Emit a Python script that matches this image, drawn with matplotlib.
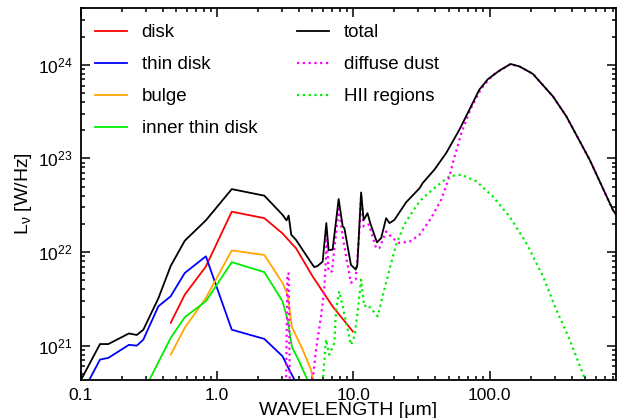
import numpy as np
import matplotlib
matplotlib.use("Agg")
import matplotlib.pyplot as plt
from matplotlib.ticker import FixedLocator, FixedFormatter, LogLocator, NullFormatter

plt.rcParams['font.family'] = ['Liberation Sans', 'DejaVu Sans']
plt.rcParams['mathtext.fontset'] = 'custom'
plt.rcParams['mathtext.rm'] = 'Liberation Sans'
plt.rcParams['mathtext.it'] = 'Liberation Sans:italic'

# ---- data (wavelength in micron, luminosity in W/Hz) ----
total_wl = [0.1, 0.138, 0.159, 0.225, 0.257, 0.287, 0.37, 0.456, 0.578, 0.826, 1.28,
            2.22, 3.02, 3.23, 3.35, 3.5, 3.79, 5.02, 5.17, 5.46, 5.95, 6.33, 6.58, 7.04,
            7.8, 8.35, 8.59, 9.6, 10.4, 10.7, 11.4, 11.9, 12.7, 13.3, 14.9, 16.0, 17.4,
            18.4, 20.0, 24.4, 30.6, 32.3, 39.4, 48, 60, 71, 84, 97, 118.5, 142.6, 166,
            208, 292, 367, 543, 806, 850]
total_L = [4.3e20, 1.04e21, 1.04e21, 1.35e21, 1.3e21, 1.48e21, 3.2e21, 7.1e21, 1.32e22,
           2.18e22, 4.7e22, 4.0e22, 2.5e22, 2.18e22, 2.45e22, 1.53e22, 1.35e22, 7.3e21,
           6.9e21, 7.1e21, 7.9e21, 2.04e22, 1.05e22, 1.06e22, 3.68e22, 1.88e22, 1.8e22,
           7.3e21, 6.5e21, 7.3e21, 4.33e22, 2.2e22, 2.6e22, 2.04e22, 1.27e22, 1.41e22,
           2.3e22, 2.04e22, 2.2e22, 3.4e22, 4.8e22, 5.46e22, 7.6e22, 1.14e23, 2.02e23,
           3.3e23, 5.41e23, 7.0e23, 8.7e23, 1.02e24, 9.6e23, 8.0e23, 4.6e23, 2.8e23,
           9.7e22, 2.8e22, 2.5e22]

disk_wl = [0.456, 0.578, 0.826, 1.28, 2.22, 3.02, 3.58, 3.79, 5.02, 7.04, 9.9]
disk_L = [1.75e21, 3.5e21, 7.0e21, 2.7e22, 2.3e22, 1.58e22, 1.2e22, 1.1e22, 5.5e21,
          2.63e21, 1.42e21]

thin_wl = [0.112, 0.138, 0.159, 0.225, 0.257, 0.287, 0.37, 0.456, 0.578, 0.826, 1.28,
           2.22, 3.02, 3.48, 3.8]
thin_L = [4.0e20, 7.1e20, 7.4e20, 1.02e21, 1.0e21, 1.16e21, 2.63e21, 3.37e21, 5.97e21,
          9.0e21, 1.48e21, 1.18e21, 7.7e20, 5.1e20, 4.0e20]

bulge_wl = [0.456, 0.578, 0.826, 1.28, 2.22, 3.02, 3.29, 3.54, 4.24, 4.89, 5.1]
bulge_L = [8.0e20, 1.55e21, 3.23e21, 1.04e22, 9.3e21, 4.68e21, 3.5e21, 1.58e21, 9.1e20,
           5.5e20, 4.0e20]

inner_wl = [0.31, 0.456, 0.578, 0.826, 1.28, 2.22, 3.02, 3.29, 3.54, 4.0, 4.7]
inner_L = [4.0e20, 1.21e21, 2.01e21, 2.98e21, 7.8e21, 6.1e21, 2.98e21, 1.9e21, 9.7e20,
           6.8e20, 4.0e20]

dust_wl = [3.2, 3.28, 3.35, 3.42, 5.0, 5.32, 5.79, 6.12, 6.3, 6.37, 6.58, 6.97, 7.17,
           7.8, 8.35, 8.84, 9.6, 10.4, 11.0, 11.4, 11.9, 13.0, 14.7, 15.5, 17.4, 19.4,
           21.7, 25.8, 30.6, 37.2, 44.1, 50.8, 53.7, 62, 73, 87, 106, 142.6, 166, 208,
           292, 367, 543, 806, 850]
dust_L = [3.0e20, 5.9e21, 5.9e21, 3.0e20, 4.0e20, 9.1e20, 2.06e21, 3.98e21, 9.0e21,
          1.53e22, 6.2e21, 6.2e21, 9.3e21, 2.88e22, 1.47e22, 9.0e21, 4.7e21, 5.1e21,
          1.47e22, 4.1e22, 1.88e22, 1.97e22, 1.1e22, 1.1e22, 1.66e22, 1.41e22, 1.25e22,
          1.29e22, 1.53e22, 2.3e22, 3.6e22, 6.46e22, 8.9e22, 1.86e23, 3.45e23, 5.6e23,
          7.8e23, 1.02e24, 9.6e23, 8.0e23, 4.6e23, 2.8e23, 9.7e22, 2.8e22, 2.5e22]

hii_wl = [5.95, 6.3, 6.66, 7.25, 7.46, 7.88, 8.35, 9.08, 9.6, 10.2, 10.8, 11.4, 12.0,
          12.7, 15.1, 16.4, 18.4, 20.6, 23.7, 25.8, 30.6, 32.4, 40.6, 50.8, 62, 80, 106,
          140, 186, 247, 309, 387, 500]
hii_L = [4.0e20, 1.16e21, 8.0e20, 1.07e21, 2.42e21, 3.8e21, 2.63e21, 1.48e21, 1.02e21,
         1.26e21, 2.42e21, 5.07e21, 2.63e21, 2.74e21, 2.06e21, 3.37e21, 6.46e21, 1.2e22,
         1.97e22, 2.4e22, 3.47e22, 3.78e22, 5.0e22, 6.46e22, 6.7e22, 5.7e22, 3.9e22,
         2.4e22, 1.25e22, 5.5e21, 2.42e21, 1.16e21, 4.45e20]

xtick_vals = [0.1, 1.0, 10.0, 100.0]
xtick_labels = ['0.1', '1.0', '10.0', '100.0']

# ---- figure ----
fig = plt.figure(figsize=(6.18, 4.18), dpi=100)
ax = fig.add_axes([0.131, 0.091, 0.866, 0.890])

lw = 1.3
dot = (0, (1, 1.6))
h_disk, = ax.plot(disk_wl, disk_L, color='#ff0000', lw=lw, label='disk')
h_thin, = ax.plot(thin_wl, thin_L, color='#0000ff', lw=lw, label='thin disk')
h_bulge, = ax.plot(bulge_wl, bulge_L, color='#ffa500', lw=lw, label='bulge')
h_inner, = ax.plot(inner_wl, inner_L, color='#00ee00', lw=lw, label='inner thin disk')
h_hii, = ax.plot(hii_wl, hii_L, color='#00ee00', lw=1.6, ls=dot, label='HII regions')
h_dust, = ax.plot(dust_wl, dust_L, color='#ff00ff', lw=1.6, ls=dot, label='diffuse dust')
h_tot, = ax.plot(total_wl, total_L, color='black', lw=lw, label='total')

ax.set_xscale('log')
ax.set_yscale('log')
ax.set_xlim(0.1, 850)
ax.set_ylim(4.3e20, 4.05e24)

ax.xaxis.set_major_locator(FixedLocator(xtick_vals))
ax.xaxis.set_major_formatter(FixedFormatter(xtick_labels))
ax.xaxis.set_minor_locator(LogLocator(base=10, subs=np.arange(2, 10)))
ax.xaxis.set_minor_formatter(NullFormatter())
ax.yaxis.set_major_locator(LogLocator(base=10, numticks=10))
ax.yaxis.set_minor_locator(LogLocator(base=10, subs=np.arange(2, 10), numticks=10))
ax.yaxis.set_minor_formatter(NullFormatter())

ax.tick_params(which='both', direction='in', top=True, right=True, labelsize=12.5,
               width=1.1, colors='black')
ax.tick_params(which='major', length=6.5, pad=6)
ax.tick_params(which='minor', length=3.2)
for s in ax.spines.values():
    s.set_linewidth(1.3)

ax.set_xlabel('WAVELENGTH [\u03bcm]', fontsize=14, labelpad=-1)
ax.set_ylabel(r'L$_{\mathrm{\nu}}$ [W/Hz]', fontsize=14, labelpad=3)

leg_kw = dict(loc='upper left', frameon=False, fontsize=13.5, borderpad=0,
              borderaxespad=0, handlelength=1.7, handletextpad=0.8, labelspacing=0.79)
leg1 = ax.legend(handles=[h_disk, h_thin, h_bulge, h_inner],
                 bbox_to_anchor=(0.026, 0.956), **leg_kw)
ax.add_artist(leg1)
ax.legend(handles=[h_tot, h_dust, h_hii], bbox_to_anchor=(0.404, 0.956), **leg_kw)

fig.savefig('out.png', dpi=100)
